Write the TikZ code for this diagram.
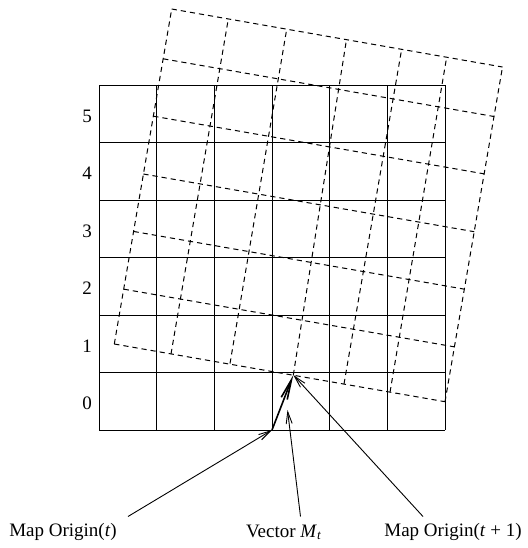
\documentclass[tikz,border=0pt]{standalone}
\usepackage{fontspec}
\setmainfont{Liberation Serif}
\usetikzlibrary{arrows.meta}
\begin{document}
\begin{tikzpicture}[x=0.5pt,y=-0.5pt,
  gridline/.style={line width=0.5pt},
  dashline/.style={line width=0.5pt, dash pattern=on 2.6pt off 2pt},
  leader/.style={line width=0.45pt, -{Straight Barb[length=6pt,width=3pt]}},
  vecarrow/.style={line width=0.8pt, -{Straight Barb[length=10pt,width=3.2pt]}},
  lbl/.style={font=\fontsize{9.5}{10}\selectfont, inner sep=0pt},
]
\useasboundingbox (0,0) rectangle (527,548);
% solid grid
\foreach \i in {0,...,6}{
  \draw[gridline] ({99.3+57.67*\i},85.3) -- ({99.3+57.67*\i},430);
  \draw[gridline] (99.3,{85.3+57.45*\i}) -- (445.3,{85.3+57.45*\i});
}
% row labels
\foreach \k in {0,...,5}{
  \node[lbl] (row\k) at (87,{432-57.45*(\k+0.5)}) {\k};
}
% rotated (dashed) grid corners
\foreach \n/\x/\y in {0/114.3/344, 1/171/354, 2/230/363.5, 3/293.3/375, 4/344/384, 5/390/392.3, 6/445/401.7}
  \coordinate (b\n) at (\x,\y);
\foreach \n/\x/\y in {0/171.7/9, 1/228.3/19, 2/286.7/29.2, 3/346.5/39.5, 4/401.7/49, 5/446.7/57, 6/502.5/67}
  \coordinate (t\n) at (\x,\y);
\foreach \n/\x/\y in {0/114.3/344, 1/123.7/289.15, 2/133.6/231.45, 3/143.4/174, 4/153.3/116.15, 5/163.2/58.8, 6/171.7/9}
  \coordinate (l\n) at (\x,\y);
\foreach \n/\x/\y in {0/445/401.7, 1/454.4/346.85, 2/464.3/289.15, 3/474.2/231.7, 4/484.1/173.85, 5/494/116.5, 6/502.5/67}
  \coordinate (r\n) at (\x,\y);
\foreach \n in {0,...,6}{
  \draw[dashline] (b\n) -- (t\n);
  \draw[dashline] (l\n) -- (r\n);
}
% origins and arrows
\coordinate (o) at (272,430);
\coordinate (vtip) at (287.5,410);
\coordinate (s1) at (128,516.5);
\coordinate (s2) at (300.5,516.5);
\coordinate (s3) at (423,516.5);
\node[lbl] (lt) at (63,532) {Map Origin(\textit{t})};
\node[lbl] (lv) at (284,532) {Vector \textit{M}\textsubscript{\textit{t}}};
\node[lbl] (lt1) at (453,532) {Map Origin(\textit{t} + 1)};
\draw[leader] (s1) -- (o);
\draw[vecarrow] (o) -- (b3);
\draw[leader] (s2) -- (vtip);
\draw[leader] (s3) -- (b3);
\end{tikzpicture}
\end{document}
